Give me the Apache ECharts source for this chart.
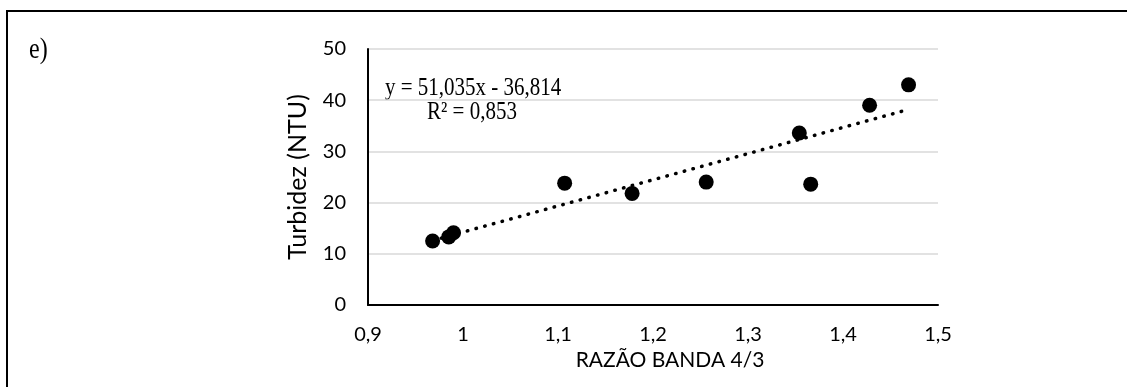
<!DOCTYPE html>
<html>
<head>
<meta charset="utf-8">
<script src="https://cdn.jsdelivr.net/npm/echarts@6/dist/echarts.min.js"></script>
<style>
html,body{margin:0;padding:0;background:#fff;}
#chart{width:1127px;height:387px;}
</style>
</head>
<body>
<div id="chart"></div>
<script>
// Data
const ratio = [0.968, 0.985, 0.990, 1.107, 1.178, 1.256, 1.354, 1.366, 1.428, 1.469];
const turbidity = [12.5, 13.3, 14.1, 23.8, 21.8, 24.0, 33.6, 23.6, 39.0, 43.0];
const trendX = [0.968, 1.469];
const trendY = [12.6, 38.2];
const xTicks = [0.9, 1.0, 1.1, 1.2, 1.3, 1.4, 1.5];
const yTicks = [0, 10, 20, 30, 40, 50];
const panelLabel = 'e)';
const equationText = 'y = 51,035x - 36,814';
const r2Text = 'R² = 0,853';
const xTitle = 'RAZÃO BANDA 4/3';
const yTitle = 'Turbidez (NTU)';

const points = ratio.map((x, i) => [x, turbidity[i]]);
const trend = trendX.map((x, i) => [x, trendY[i]]);
const fmt = v => String(Math.round(v * 10) / 10).replace('.', ',');

const chart = echarts.init(document.getElementById('chart'), null, {renderer: 'canvas'});
chart.setOption({
  animation: false,
  backgroundColor: '#ffffff',
  grid: {left: 368, right: 189, top: 49, bottom: 82},
  xAxis: {
    type: 'value',
    min: xTicks[0], max: xTicks[xTicks.length - 1], interval: 0.1,
    axisLine: {show: true, onZero: false, lineStyle: {color: '#000', width: 2}},
    axisTick: {show: false},
    splitLine: {show: false},
    axisLabel: {formatter: fmt, color: '#000', fontFamily: 'Lato', fontSize: 20, margin: 20},
    name: xTitle, nameLocation: 'middle', nameGap: 44,
    nameTextStyle: {color: '#000', fontFamily: 'Lato', fontSize: 21, padding: [0, 0, 0, 34]}
  },
  yAxis: {
    type: 'value',
    min: yTicks[0], max: yTicks[yTicks.length - 1], interval: 10,
    axisLine: {show: true, lineStyle: {color: '#000', width: 2}},
    axisTick: {show: false},
    splitLine: {show: true, lineStyle: {color: '#d9d9d9', width: 1.5}},
    axisLabel: {color: '#000', fontFamily: 'Lato', fontSize: 20, margin: 22},
    name: yTitle, nameLocation: 'middle', nameGap: 58, nameRotate: 90,
    nameTextStyle: {color: '#000', fontFamily: 'Lato', fontSize: 25}
  },
  series: [
    {
      type: 'line',
      data: trend,
      symbol: 'none',
      z: 1,
      lineStyle: {color: '#000', width: 3.5, type: [0.5, 8.5], cap: 'round'}
    },
    {
      type: 'scatter',
      data: points,
      symbol: 'circle',
      symbolSize: 15,
      z: 2,
      itemStyle: {color: '#000', opacity: 1}
    }
  ],
  graphic: [
    {type: 'rect', shape: {x: 7, y: 11, width: 1300, height: 600},
     style: {fill: 'none', stroke: '#000', lineWidth: 2}, silent: true},
    {type: 'text', x: 29, y: 36, scaleY: 1.2,
     style: {text: panelLabel, fill: '#000', font: '24px "Liberation Serif"'}},
    {type: 'text', x: 385, y: 77, scaleY: 1.15,
     style: {text: equationText, fill: '#000', font: '21px "Liberation Serif"'}},
    {type: 'text', x: 427, y: 101, scaleY: 1.15,
     style: {text: r2Text, fill: '#000', font: '21px "Liberation Serif"'}}
  ]
});
</script>
</body>
</html>
